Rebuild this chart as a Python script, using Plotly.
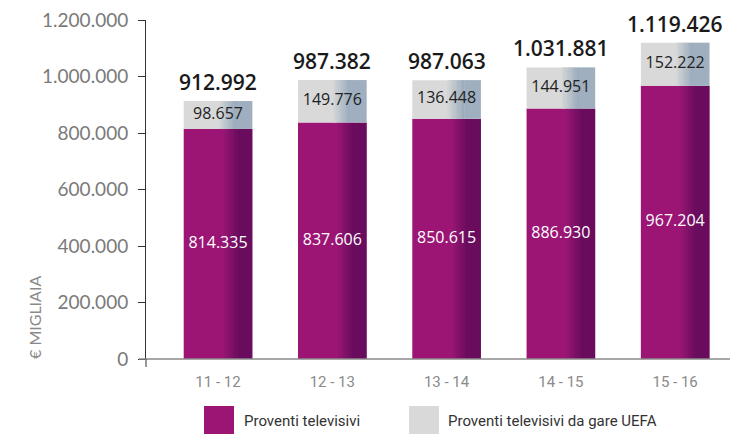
import plotly.graph_objects as go

categories = ["11 - 12", "12 - 13", "13 - 14", "14 - 15", "15 - 16"]
tv = [814335, 837606, 850615, 886930, 967204]
uefa = [98657, 149776, 136448, 144951, 152222]
totals = [912992, 987382, 987063, 1031881, 1119426]
y_ticks = [0, 200000, 400000, 600000, 800000, 1000000, 1200000]


def it(v):
    return f"{v:,}".replace(",", ".")


def mix(c1, c2, t):
    a = [int(c1[i:i + 2], 16) for i in (1, 3, 5)]
    b = [int(c2[i:i + 2], 16) for i in (1, 3, 5)]
    return "rgb(%d,%d,%d)" % tuple(round(a[k] + (b[k] - a[k]) * t) for k in range(3))


W = 0.6
fig = go.Figure()

fig.add_trace(go.Bar(x=categories, y=tv, width=W, offset=-W / 2,
                     marker=dict(color="#9c1574", line=dict(width=0)),
                     name="Proventi televisivi", showlegend=False, hoverinfo="skip"))
n = 10
f0, f1 = 0.57, 0.82
for k in range(n):
    a = f0 + (f1 - f0) * k / n
    fig.add_trace(go.Bar(x=categories, y=tv, width=W * (f1 - f0) / n + 0.002,
                         offset=-W / 2 + W * a,
                         marker=dict(color=mix("#9e1776", "#6a0c5e", (k + 1) / n), line=dict(width=0)),
                         showlegend=False, hoverinfo="skip"))
fig.add_trace(go.Bar(x=categories, y=tv, width=W * (1 - f1), offset=-W / 2 + W * f1,
                     marker=dict(color="#6a0c5e", line=dict(width=0)),
                     showlegend=False, hoverinfo="skip"))

fig.add_trace(go.Bar(x=categories, y=uefa, base=tv, width=W, offset=-W / 2,
                     marker=dict(color="#d9d9d9", line=dict(width=0)),
                     name="Proventi televisivi da gare UEFA", showlegend=False, hoverinfo="skip"))
g0, g1 = 0.52, 0.76
for k in range(n):
    a = g0 + (g1 - g0) * k / n
    fig.add_trace(go.Bar(x=categories, y=uefa, base=tv, width=W * (g1 - g0) / n + 0.002,
                         offset=-W / 2 + W * a,
                         marker=dict(color=mix("#d9d9d9", "#9dadbd", (k + 1) / n), line=dict(width=0)),
                         showlegend=False, hoverinfo="skip"))
fig.add_trace(go.Bar(x=categories, y=uefa, base=tv, width=W * (1 - g1), offset=-W / 2 + W * g1,
                     marker=dict(color="#9fafbf", line=dict(width=0)),
                     showlegend=False, hoverinfo="skip"))

fig.add_trace(go.Scatter(x=categories, y=[t / 2 for t in tv],
                         mode="text", text=[it(v) for v in tv],
                         textfont=dict(color="white", size=16, family="Open Sans", weight=500),
                         showlegend=False, hoverinfo="skip"))
fig.add_trace(go.Scatter(x=categories, y=[t + u / 2 for t, u in zip(tv, uefa)],
                         mode="text", text=[it(v) for v in uefa],
                         textfont=dict(color="#222222", size=16, family="Open Sans", weight=500),
                         showlegend=False, hoverinfo="skip"))

# page has an 8px body margin: figure is drawn from (8, 8)
OFF = 8
FW, FH = 742 - OFF, 434 - OFF
L, T = 146 - OFF, 20 - OFF
PW, PH = 584, 339
R = FW - L - PW
B = FH - T - PH


def px(xp):
    return (xp - OFF - L) / PW


def py(yp):
    return (T + PH - (yp - OFF)) / PH


total_annots = [
    dict(x=c, y=v, xref="x", yref="y", text=it(v), showarrow=False,
         xanchor="center", yanchor="bottom", yshift=3,
         font=dict(color="#1a1a1a", size=21, family="Open Sans", weight=600))
    for c, v in zip(categories, totals)
]

fig.update_layout(
    width=FW, height=FH,
    margin=dict(l=L, r=R, t=T, b=B, pad=0, autoexpand=False),
    barmode="overlay",
    separators=",.",
    plot_bgcolor="white", paper_bgcolor="white",
    showlegend=False,
    xaxis=dict(range=[-0.63, 4.48], showline=False, showgrid=False, zeroline=False, automargin=False,
               ticks="", tickfont=dict(family="Liberation Sans Narrow, Roboto", size=15, color="#8a8a8a"),
               ticklabelstandoff=12, fixedrange=True),
    yaxis=dict(range=[0, 1200000], tickvals=y_ticks, ticktext=[it(v) for v in y_ticks],
               showgrid=False, zeroline=False, showline=True, linecolor="#333333", linewidth=1,
               ticks="outside", ticklen=7, tickcolor="#333333", tickwidth=1, automargin=False,
               tickfont=dict(family="Lato", size=19, color="#7a7a7a"),
               ticklabeloverflow="allow",
               ticklabelstandoff=6, fixedrange=True),
    shapes=[
        dict(type="line", xref="paper", yref="paper", x0=-7 / PW, x1=1, y0=0, y1=0,
             line=dict(color="#8a8a8a", width=1.5)),
        dict(type="line", xref="paper", yref="paper", x0=0, x1=0, y0=0, y1=-8 / PH,
             line=dict(color="#333333", width=1)),
        dict(type="rect", xref="paper", yref="paper",
             x0=px(204), x1=px(234), y0=py(406), y1=py(434),
             fillcolor="#9c1574", line=dict(width=0)),
        dict(type="rect", xref="paper", yref="paper",
             x0=px(409), x1=px(439), y0=py(406), y1=py(434),
             fillcolor="#d9d9d9", line=dict(width=0)),
    ],
    annotations=total_annots + [
        dict(text="€ MIGLIAIA", xref="paper", yref="paper", x=px(34), y=py(318),
             textangle=-90, showarrow=False, xanchor="center", yanchor="middle",
             font=dict(family="Lato", size=16, color="#8a8a8a")),
        dict(text="Proventi televisivi", xref="paper", yref="paper", x=px(242),
             y=py(421), xanchor="left", yanchor="middle", showarrow=False,
             font=dict(family="Liberation Sans Narrow, Roboto", size=15, color="#333333")),
        dict(text="Proventi televisivi da gare UEFA", xref="paper", yref="paper", x=px(446),
             y=py(421), xanchor="left", yanchor="middle", showarrow=False,
             font=dict(family="Liberation Sans Narrow, Roboto", size=15, color="#333333")),
    ],
)

fig.write_html("out.html")
